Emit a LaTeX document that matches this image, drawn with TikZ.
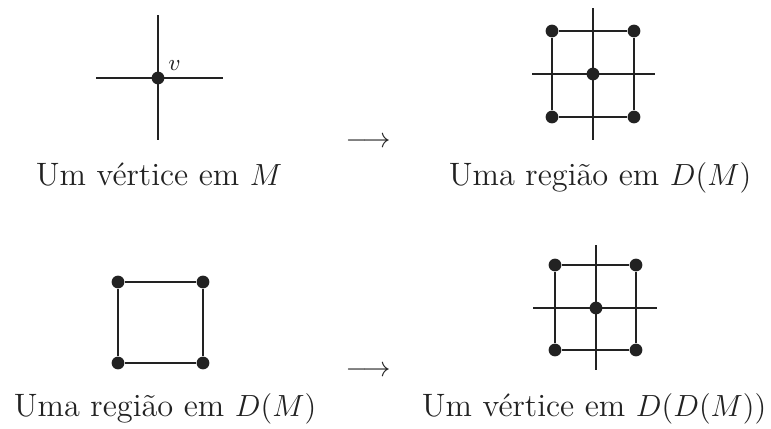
\documentclass[tikz,border=0pt]{standalone}
\usepackage{amsmath}
\usepackage{fontspec}
\usetikzlibrary{positioning, calc}
\definecolor{ink}{HTML}{222222}
\tikzset{
  edge/.style={draw=ink, line width=0.8pt},
  vtx/.style={circle, fill=ink, inner sep=0pt, minimum size=5pt},
  caption/.style={inner sep=0pt, anchor=base, text=ink,
                  font=\fontsize{12.7}{15}\selectfont},
  maps/.style={inner sep=0pt, text=ink, font=\fontsize{11}{13}\selectfont},
}
\begin{document}
\begin{tikzpicture}[x=0.392pt, y=-0.392pt]
  \useasboundingbox (0,0) rectangle (771,428);

  % ---- vertex of M ------------------------------------------------------
  \node[vtx] (v) at (158,78) {};
  \coordinate (vN) at (158,15);  \coordinate (vS) at (158,140);
  \coordinate (vW) at (96,78);   \coordinate (vE) at (223,78);
  \draw[edge] (vN) -- (vS);
  \draw[edge] (vW) -- (vE);
  \node[text=ink, font=\small, inner sep=1pt, above right=0pt and 1pt of v] (vlbl) {$v$};

  % ---- region of D(M) ---------------------------------------------------
  \node[vtx] (c) at (593,74) {};
  \node[vtx] (a1) at (552,31)  {};  \node[vtx] (a2) at (634,31)  {};
  \node[vtx] (a3) at (552,117) {};  \node[vtx] (a4) at (634,117) {};
  \coordinate (cN) at (593,8);   \coordinate (cS) at (593,140);
  \coordinate (cW) at (532,74);  \coordinate (cE) at (655,74);
  \draw[edge] (cN) -- (cS);
  \draw[edge] (cW) -- (cE);
  \draw[edge] (a1) -- (a2) -- (a4) -- (a3) -- (a1);

  % ---- region of D(M), bottom -------------------------------------------
  \node[vtx] (b1) at (118,282) {};  \node[vtx] (b2) at (203,282) {};
  \node[vtx] (b3) at (118,363) {};  \node[vtx] (b4) at (203,363) {};
  \draw[edge] (b1) -- (b2) -- (b4) -- (b3) -- (b1);

  % ---- vertex of D(D(M)) ------------------------------------------------
  \node[vtx] (d) at (596,308) {};
  \node[vtx] (e1) at (555,265) {};  \node[vtx] (e2) at (636,265) {};
  \node[vtx] (e3) at (555,350) {};  \node[vtx] (e4) at (636,350) {};
  \coordinate (dN) at (596,245);  \coordinate (dS) at (596,370);
  \coordinate (dW) at (533,308);  \coordinate (dE) at (657,308);
  \draw[edge] (dN) -- (dS);
  \draw[edge] (dW) -- (dE);
  \draw[edge] (e1) -- (e2) -- (e4) -- (e3) -- (e1);

  % ---- arrows -----------------------------------------------------------
  \node[maps] (m1) at (368,142) {$\longrightarrow$};
  \node[maps] (m2) at (368,371) {$\longrightarrow$};

  % ---- captions ---------------------------------------------------------
  \node[caption] (t1) at (159,185) {Um vértice em $M$};
  \node[caption] (t2) at (600,185) {Uma região em $D(M)$};
  \node[caption] (t3) at (165,416) {Uma região em $D(M)$};
  \node[caption] (t4) at (594,416) {Um vértice em $D(D(M))$};

\end{tikzpicture}
\end{document}
